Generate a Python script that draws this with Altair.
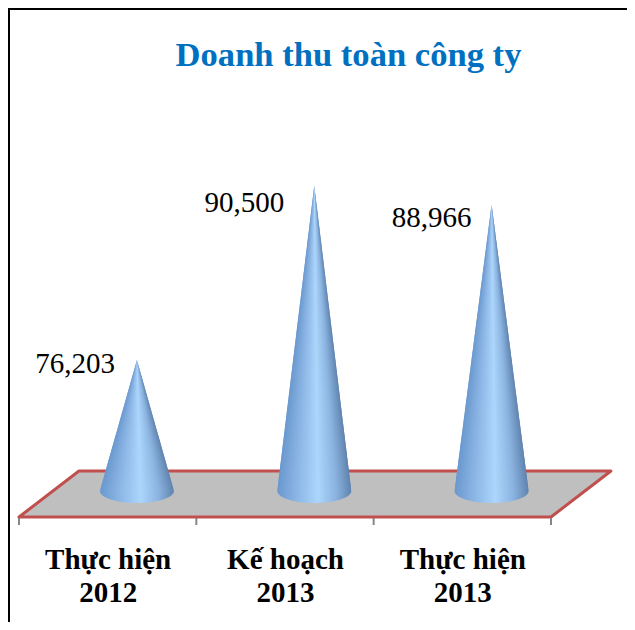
import json
import numpy as np
import pandas as pd
import altair as alt

title = "Doanh thu toàn công ty"
categories = [["Thực hiện", "2012"], ["Kế hoạch", "2013"], ["Thực hiện", "2013"]]
values = [76203, 90500, 88966]

SERIF = "Liberation Serif"
W, H, FULL_H = 619, 509, 614
x_scale = alt.Scale(domain=[-0.562, 2.9286], range=[0, W], nice=False, zero=False)
y_min, y_max = 63302, 105127
y_scale = alt.Scale(domain=[y_min, y_max], range=[H, 0], nice=False, zero=False)

base_value, base_b = 65438, 986
shift, half_w = 0.165, 0.2087
floor_back, floor_skew = 67081, 0.338

# each cone: the lower half of its base ellipse, then thin bands from base to tip
bottom_rows, band_rows = [], []
band_step = 164
for i, v in enumerate(values):
    cx = i + shift
    for th in np.linspace(0, np.pi, 61):
        u = -np.cos(th)
        bottom_rows.append({
            "c": i, "x": cx + u * half_w, "top": base_value,
            "bot": base_value - base_b * np.sqrt(max(0.0, 1 - u * u)),
        })
    b = 0
    edge = np.arange(base_value, v, band_step)
    for lo in edge:
        hi = min(lo + 2 * band_step, v)
        for val in (lo, hi):
            w = half_w * (v - val) / (v - base_value)
            band_rows.append({"k": f"{i}-{b}", "y": val, "x1": cx - w, "x2": cx + w})
        b += 1

floor_area = pd.DataFrame({
    "x": [-0.5, -0.5 + floor_skew, 2.5, 2.5 + floor_skew],
    "top": [y_min, floor_back, floor_back, floor_back],
    "bot": [y_min, y_min, y_min, floor_back],
})
floor_line = pd.DataFrame({
    "x": [-0.5, -0.5 + floor_skew, 2.5 + floor_skew, 2.5, -0.5],
    "y": [y_min, floor_back, floor_back, y_min, y_min],
    "i": [0, 1, 2, 3, 4],
})
ticks = pd.DataFrame({"x": [-0.5, 0.5, 1.5, 2.5]})

label_expr = json.dumps(categories, ensure_ascii=False) + "[datum.value]"

floor = alt.Chart(floor_area).mark_area(color="#BFBFBF").encode(
    x=alt.X("x:Q", scale=x_scale, axis=alt.Axis(
        values=[0, 1, 2], labelExpr=label_expr, title=None, grid=False, domain=False,
        ticks=False, labelFont=SERIF, labelFontSize=29, labelFontWeight="bold",
        labelColor="#000000", labelLineHeight=33, labelPadding=28,
        labelOverlap=False, labelFlush=False, labelBound=False, labelAngle=0)),
    y=alt.Y("top:Q", scale=y_scale, axis=None, stack=None),
    y2="bot:Q",
)
outline = alt.Chart(floor_line).mark_line(
    color="#C0504D", strokeWidth=3, strokeJoin="round", strokeCap="round"
).encode(
    x=alt.X("x:Q", scale=x_scale),
    y=alt.Y("y:Q", scale=y_scale),
    order="i:Q",
)
tick_marks = alt.Chart(ticks).mark_rule(color="#868686", strokeWidth=2).encode(
    x=alt.X("x:Q", scale=x_scale),
    y=alt.value(H + 1),
    y2=alt.value(H + 8),
)
gradient = alt.Gradient(
    gradient="linear", x1=0, x2=1, y1=0, y2=0,
    stops=[
        alt.GradientStop(color="#6A98CE", offset=0),
        alt.GradientStop(color="#8DB7E6", offset=0.28),
        alt.GradientStop(color="#ACD6FC", offset=0.55),
        alt.GradientStop(color="#8AB2DF", offset=0.8),
        alt.GradientStop(color="#5F83AE", offset=1),
    ],
)
cone_bottoms = alt.Chart(pd.DataFrame(bottom_rows)).mark_area(
    color=gradient, interpolate="linear"
).encode(
    x=alt.X("x:Q", scale=x_scale),
    y=alt.Y("top:Q", scale=y_scale, stack=None),
    y2="bot:Q",
    detail="c:N",
)
cone_bands = alt.Chart(pd.DataFrame(band_rows)).mark_area(
    color=gradient, orient="horizontal", interpolate="linear"
).encode(
    y=alt.Y("y:Q", scale=y_scale),
    x=alt.X("x1:Q", scale=x_scale, stack=None),
    x2="x2:Q",
    detail="k:N",
)

label_layers = []
offsets = [(-22, 13), (-30, 26), (-20, 22)]
for i, (v, (dx, dy)) in enumerate(zip(values, offsets)):
    label_layers.append(
        alt.Chart(pd.DataFrame({"x": [i + shift], "v": [v]})).mark_text(
            font=SERIF, fontSize=29, color="#000000", align="right",
            baseline="alphabetic", dx=dx, dy=dy
        ).encode(
            x=alt.X("x:Q", scale=x_scale),
            y=alt.Y("v:Q", scale=y_scale),
            text=alt.Text("v:Q", format=","),
        )
    )

frame_top = alt.Chart(pd.DataFrame({"a": [0]})).mark_rule(color="#000000", strokeWidth=2).encode(
    x=alt.value(0), x2=alt.value(W), y=alt.value(1)
)
frame_left = alt.Chart(pd.DataFrame({"a": [0]})).mark_rule(color="#000000", strokeWidth=2).encode(
    x=alt.value(1), y=alt.value(0), y2=alt.value(FULL_H)
)

chart = alt.layer(
    floor, outline, tick_marks, cone_bottoms, cone_bands, *label_layers, frame_top, frame_left
).properties(
    width=W,
    height=H,
    title=alt.TitleParams(
        title, font=SERIF, fontSize=34.6, fontWeight="bold", color="#0070C0",
        anchor="middle", frame="group", dx=31, dy=94, offset=0, baseline="alphabetic",
    ),
    autosize=alt.AutoSizeParams(type="none"),
    padding={"left": 0, "top": 0, "right": 0, "bottom": FULL_H - H},
).configure_view(stroke=None)

chart.save("out.html", embed_options={"renderer": "svg", "actions": False})
